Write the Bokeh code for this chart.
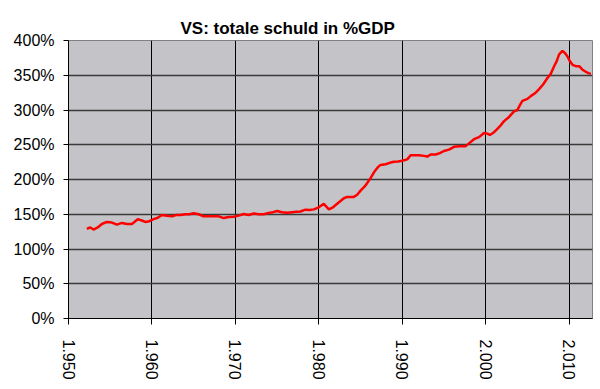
from bokeh.plotting import figure
from bokeh.models import Range1d, FixedTicker, Title
from bokeh.embed import file_html
from bokeh.resources import INLINE

years = [1952.2, 1952.6, 1953.0, 1953.5, 1954.0, 1954.6, 1955.2, 1955.8, 1956.4, 1957.0,
         1957.6, 1958.3, 1958.8, 1959.2, 1959.7, 1960.2, 1960.7, 1961.2, 1961.8, 1962.4,
         1962.9, 1963.4, 1964.0, 1964.5, 1965.0, 1965.6, 1966.2, 1966.8, 1967.4, 1968.0,
         1968.6, 1969.2, 1969.8, 1970.4, 1971.0, 1971.6, 1972.2, 1972.8, 1973.4, 1974.0,
         1974.5, 1975.0, 1975.6, 1976.2, 1976.8, 1977.3, 1977.8, 1978.4, 1978.9, 1979.4,
         1980.0, 1980.6, 1981.2, 1981.7, 1982.2, 1982.6, 1983.0, 1983.4, 1984.2, 1984.6,
         1985.0, 1985.5, 1985.8, 1986.2, 1986.7, 1987.1, 1987.4, 1988.0, 1988.5, 1989.0,
         1989.5, 1990.0, 1990.6, 1991.0, 1991.5, 1992.0, 1992.6, 1993.0, 1993.4, 1994.0,
         1994.5, 1995.0, 1995.6, 1996.2, 1996.8, 1997.6, 1998.0, 1998.6, 1999.2, 1999.8,
         2000.2, 2000.5, 2001.0, 2001.4, 2001.8, 2002.2, 2002.8, 2003.4, 2003.8, 2004.1,
         2004.4, 2005.0, 2005.4, 2005.9, 2006.4, 2006.9, 2007.4, 2007.8, 2008.2, 2008.5,
         2008.8, 2009.2, 2009.5, 2009.8, 2010.1, 2010.4, 2010.8, 2011.2, 2011.6, 2012.0,
         2012.3, 2012.6]
debt_pct = [129, 131, 128, 131, 136, 139, 138, 135, 137.5, 136,
            136, 142.8, 141, 139, 140, 143, 145, 149, 148, 147,
            149, 149, 150, 150, 151.4, 150, 147, 147, 147, 147,
            144.5, 146, 146.5, 148, 150.4, 149, 151, 150, 150, 152,
            153, 154.7, 153, 152, 153, 153.5, 154, 156.6, 156, 157,
            160, 165, 157, 160, 165, 169, 173, 175, 175, 178,
            184, 190, 195, 202, 212, 218, 221, 222, 224, 225.6,
            226, 227, 229, 235, 235, 235, 234, 233, 236, 236,
            238, 241, 243, 247, 248, 248, 252, 258, 261, 267,
            266, 264, 268, 273, 278, 284, 290, 298, 300, 307,
            313, 316, 320, 324, 330, 337, 346, 352, 363, 370,
            380, 385, 382, 377, 370, 365, 363, 363, 358, 355,
            353, 352]

x_ticks = [1950, 1960, 1970, 1980, 1990, 2000, 2010]
x_tick_labels = ["1.950", "1.960", "1.970", "1.980", "1.990", "2.000", "2.010"]
y_ticks = [0, 50, 100, 150, 200, 250, 300, 350, 400]
y_tick_labels = ["0%", "50%", "100%", "150%", "200%", "250%", "300%", "350%", "400%"]
title_text = "VS: totale schuld in %GDP"

FONT = "Liberation Sans"

p = figure(width=600, height=389, output_backend="svg", toolbar_location=None,
           x_range=Range1d(1950, 2012.8), y_range=Range1d(0, 400),
           min_border_left=68, min_border_right=8, min_border_top=40,
           min_border_bottom=71)

p.title = Title(text=title_text, align="left", offset=112,
                vertical_align="top", standoff=2,
                text_font=FONT, text_font_size="17px", text_font_style="bold",
                text_color="black")

p.border_fill_color = "white"
p.outline_line_color = "#808080"
p.outline_line_width = 1

p.line(years, debt_pct, line_color="#FF0000", line_width=2.5)

for ax in (p.xaxis[0], p.yaxis[0]):
    ax.axis_line_color = "black"
    ax.major_tick_line_color = "black"
    ax.major_tick_in = 0
    ax.major_tick_out = 5
    ax.minor_tick_line_color = None
    ax.major_label_text_font = FONT
    ax.major_label_text_font_size = "16px"
    ax.major_label_text_color = "black"

p.xaxis.ticker = FixedTicker(ticks=x_ticks)
p.xaxis.major_label_overrides = {t: l for t, l in zip(x_ticks, x_tick_labels)}
p.xaxis.major_label_orientation = "vertical"
p.xaxis.major_label_standoff = 15
p.xaxis.major_tick_out = 6

p.yaxis.ticker = FixedTicker(ticks=y_ticks)
p.yaxis.major_label_overrides = {t: l for t, l in zip(y_ticks, y_tick_labels)}
p.yaxis.major_label_standoff = 9

p.background_fill_color = "#C4C3C7"
p.xgrid.grid_line_color = "black"
p.xgrid.grid_line_width = 1
p.ygrid.grid_line_color = "#3a3a3a"
p.ygrid.grid_line_width = 1.5

open("out.html", "w").write(file_html(p, INLINE))
